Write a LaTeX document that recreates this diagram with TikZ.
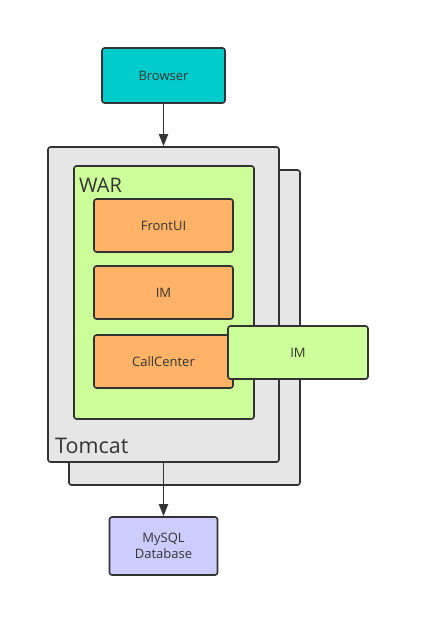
\documentclass[tikz,border=0pt]{standalone}
\usepackage{fontspec}
\setmainfont{Open Sans}
\usetikzlibrary{arrows.meta}
\definecolor{linegray}{HTML}{333333}
\definecolor{browsercyan}{HTML}{00CCCC}
\definecolor{tomcatgray}{HTML}{E6E6E6}
\definecolor{wargreen}{HTML}{CCFF99}
\definecolor{modorange}{HTML}{FFB366}
\definecolor{dbblue}{HTML}{CCCCFF}

\begin{document}
\begin{tikzpicture}[x=1pt,y=-1pt,
  box/.style={draw=linegray,line width=1.6pt,rounded corners=2.5pt,text=linegray,
    font=\fontsize{13}{16}\selectfont,inner sep=0pt,align=center},
  module/.style={box,fill=modorange,minimum width=139pt,minimum height=53pt},
  container/.style={box,fill=tomcatgray,minimum width=231pt,minimum height=315pt},
  biglabel/.style={anchor=base west,text=linegray,inner sep=0pt,font=\fontsize{#1}{#1}\selectfont},
  flow/.style={draw=linegray,line width=1.8pt,-{Triangle[length=12pt,width=9pt]}}]
  \useasboundingbox (0,0) rectangle (428,637);

  \node[box,fill=browsercyan,minimum width=123pt,minimum height=55pt] (browser) at (163.5,75.5) {Browser};

  % two tomcat instances
  \node[container] (tomcatback) at (184.5,327.5) {};
  \node[container] (tomcat) at (163.5,304.5) {};
  \node[biglabel=21.5] (tomcatlabel) at (55,453) {Tomcat};

  % war with its modules
  \node[box,fill=wargreen,minimum width=180pt,minimum height=253pt] (war) at (164,292.5) {};
  \node[biglabel=20] (warlabel) at (79,192) {WAR};
  \node[module] (frontui) at (163.5,225.5) {FrontUI};
  \node[module] (im) at (163.5,292.5) {IM};
  \node[module] (callcenter) at (163.5,361.5) {CallCenter};
  \node[box,fill=wargreen,minimum width=140pt,minimum height=53pt] (imext) at (298,352.5) {IM};

  \node[box,fill=dbblue,minimum width=108pt,minimum height=58pt] (mysql) at (163.5,546) {MySQL\\Database};

  \draw[flow] (browser) -- (tomcat);
  \draw[flow] (tomcat) -- (mysql);
\end{tikzpicture}
\end{document}
